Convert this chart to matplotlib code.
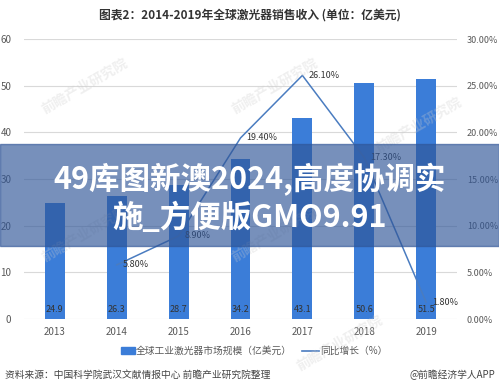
import matplotlib
matplotlib.use('Agg')
import matplotlib.pyplot as plt
from matplotlib.patches import Rectangle
from matplotlib.ticker import FuncFormatter

plt.rcParams['font.family'] = ['Noto Sans CJK SC', 'DejaVu Sans']

years = ['2013', '2014', '2015', '2016', '2017', '2018', '2019']
market = [24.9, 26.3, 28.7, 34.2, 43.1, 50.6, 51.5]
growth_years = ['2014', '2015', '2016', '2017', '2018', '2019']
growth = [5.8, 8.9, 19.4, 26.1, 17.3, 1.8]

bar_color = '#3b7dd8'
line_color = '#4a7cc0'
grey = '#595959'

fig = plt.figure(figsize=(4.99, 3.9), dpi=100)
ax = fig.add_axes([0.048, 0.182, 0.868, 0.718])

x = list(range(len(years)))
ax.bar(x, market, width=0.32, color=bar_color, zorder=2)
for i, v in enumerate(market):
    ax.text(i, 1.0, '{}'.format(v), ha='center', va='bottom', fontsize=6.5, color='#333333', zorder=3)

ax.set_xlim(-0.5, len(years) - 0.5)
ax.set_ylim(0, 60)
ax.set_yticks(range(0, 61, 10))
ax.set_xticks(x)
ax.set_xticklabels(years)
ax.grid(axis='y', color='#d9d9d9', linewidth=0.8, zorder=0)
for s in ax.spines.values():
    s.set_visible(False)
ax.tick_params(length=0, labelsize=7, colors=grey, pad=6)
ax.tick_params(axis='y', pad=9)

# growth line on secondary axis
ax2 = ax.twinx()
gx = [years.index(y) for y in growth_years]
ax2.plot(gx, growth, color=line_color, linewidth=1.1, zorder=3)
for xi, g in zip(gx, growth):
    ax2.text(xi + 0.1, g, '{:.2f}%'.format(g), ha='left', va='center', fontsize=6.5, color='#333333')
ax2.set_ylim(0, 30)
ax2.set_yticks(range(0, 31, 5))
ax2.yaxis.set_major_formatter(FuncFormatter(lambda v, p: '{:.2f}%'.format(v)))
for s in ax2.spines.values():
    s.set_visible(False)
ax2.tick_params(length=0, labelsize=6.5, colors=grey, pad=7)

# title
fig.text(0.5, 0.962, '图表2：2014-2019年全球激光器销售收入 (单位：亿美元)', ha='center', va='center',
         fontsize=8.5, fontweight='bold', color='#333333')

# legend
fig.patches.append(Rectangle((0.242, 0.093), 0.028, 0.016, transform=fig.transFigure,
                             color=bar_color, figure=fig))
fig.text(0.273, 0.1, '全球工业激光器市场规模（亿美元）', ha='left', va='center', fontsize=7, color=grey)
fig.lines.append(plt.Line2D([0.605, 0.64], [0.1, 0.1], transform=fig.transFigure,
                            color=line_color, linewidth=1.2))
fig.text(0.642, 0.1, '同比增长（%）', ha='left', va='center', fontsize=7, color=grey)

# source footer
fig.text(0.01, 0.038, '资料来源：中国科学院武汉文献情报中心 前瞻产业研究院整理', ha='left', va='center',
         fontsize=7, color='#444444')
fig.text(0.992, 0.038, '@前瞻经济学人APP', ha='right', va='center', fontsize=7, color='#444444')

# faint watermarks
for wx, wy in [(0.17, 0.78), (0.17, 0.40), (0.55, 0.78), (0.55, 0.40), (0.84, 0.68), (0.68, 0.12)]:
    fig.text(wx, wy, '前瞻产业研究院', rotation=30, ha='center', va='center', fontsize=10,
             color='#cccccc', alpha=0.3, fontweight='bold')

# overlay banner
fig.patches.append(Rectangle((0, 1 - 246 / 390), 1, 102 / 390, transform=fig.transFigure,
                             color='#2f5597', alpha=0.65, figure=fig, zorder=10))
fig.text(0.5, 1 - 180 / 390, '49库图新澳2024,高度协调实', ha='center', va='center', fontsize=22,
         fontweight='bold', color='white', zorder=11)
fig.text(0.5, 1 - 218 / 390, '施_方便版GMO9.91', ha='center', va='center', fontsize=22,
         fontweight='bold', color='white', zorder=11)

fig.savefig('out.png', dpi=100)
